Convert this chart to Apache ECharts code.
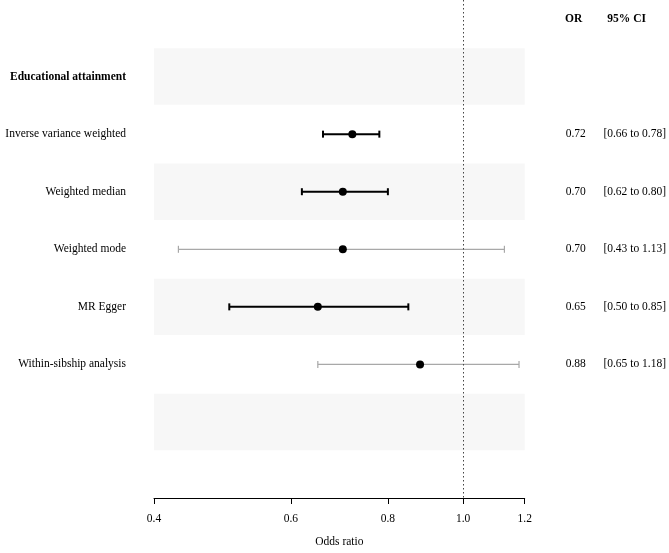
<!DOCTYPE html>
<html>
<head>
<meta charset="utf-8">
<script src="https://cdn.jsdelivr.net/npm/echarts@6/dist/echarts.min.js"></script>
<style>html,body{margin:0;padding:0;background:#fff}#chart{width:669px;height:553px}</style>
</head>
<body>
<div id="chart"></div>
<script>
// ---- data ----
const sectionTitle = 'Educational attainment';
const methods = ['Inverse variance weighted', 'Weighted median', 'Weighted mode', 'MR Egger', 'Within-sibship analysis'];
const orValues = [0.72, 0.70, 0.70, 0.65, 0.88];
const ciLower = [0.66, 0.62, 0.43, 0.50, 0.65];
const ciUpper = [0.78, 0.80, 1.13, 0.85, 1.18];
const xTicks = [0.4, 0.6, 0.8, 1.0, 1.2];
const headerOR = 'OR';
const headerCI = '95% CI';
const xName = 'Odds ratio';

// ---- layout rows: 0 header, 1 section title, 2..6 methods, 7 blank ----
const nRows = 8;
const FONT = 'Liberation Serif';
const FS = 11.5;
const ln = Math.log;

const leftText = {};
leftText[1] = '{b|' + sectionTitle + '}';
methods.forEach((m, i) => { leftText[i + 2] = m; });
const orText = {0: '{ho|' + headerOR + '}'};
const ciText = {0: '{hc|' + headerCI + '}'};
methods.forEach((m, i) => {
  orText[i + 2] = orValues[i].toFixed(2);
  ciText[i + 2] = '[' + ciLower[i].toFixed(2) + ' to ' + ciUpper[i].toFixed(2) + ']';
});

const barData = methods.map((m, i) => {
  const sig = (ciUpper[i] < 1 || ciLower[i] > 1) ? 1 : 0;
  return [ln(ciLower[i]), ln(ciUpper[i]), i + 2, sig];
});
const pointData = methods.map((m, i) => [ln(orValues[i]), i + 2]);

const bandRows = [];
for (let r = 1; r < nRows; r += 2) bandRows.push(r);

const yMin = -0.33, yMax = 8.32;
const boldStyle = {fontWeight: 'bold', fontFamily: FONT, fontSize: FS, color: '#000'};
const rich = {
  b: boldStyle,
  ho: Object.assign({padding: [0, 4, 0, 0]}, boldStyle),
  hc: Object.assign({padding: [0, 16, 0, 0]}, boldStyle)
};

function yAxisBase(extra) {
  return Object.assign({
    type: 'value', min: yMin, max: yMax, inverse: true,
    axisLine: {show: false}, axisTick: {show: false}, splitLine: {show: false}
  }, extra);
}

const chart = echarts.init(document.getElementById('chart'));
chart.setOption({
  backgroundColor: '#fff',
  animation: false,
  grid: {left: 154, right: 144, top: 0, bottom: 49},
  xAxis: {
    type: 'value', position: 'bottom',
    min: ln(xTicks[0]), max: ln(xTicks[xTicks.length - 1]),
    axisLine: {show: true, onZero: false, lineStyle: {color: '#000', width: 1}},
    axisTick: {show: true, length: 6, lineStyle: {color: '#000'}, customValues: xTicks.map(ln)},
    axisLabel: {
      customValues: xTicks.map(ln), margin: 15,
      fontFamily: FONT, fontSize: FS, color: '#000',
      formatter: v => Math.exp(v).toFixed(1)
    },
    splitLine: {show: false},
    name: xName, nameLocation: 'middle', nameGap: 38,
    nameTextStyle: {fontFamily: FONT, fontSize: FS, color: '#000'}
  },
  yAxis: [
    yAxisBase({
      position: 'left',
      axisLabel: {
        customValues: Object.keys(leftText).map(Number), margin: 28, align: 'right',
        fontFamily: FONT, fontSize: FS, color: '#000', rich: rich,
        formatter: v => leftText[Math.round(v)] || ''
      }
    }),
    yAxisBase({
      position: 'right',
      axisLabel: {
        customValues: Object.keys(orText).map(Number), margin: 51, align: 'center',
        fontFamily: FONT, fontSize: FS, color: '#000', rich: rich,
        formatter: v => orText[Math.round(v)] || ''
      }
    }),
    yAxisBase({
      position: 'right',
      axisLabel: {
        customValues: Object.keys(ciText).map(Number), margin: 110, align: 'center',
        fontFamily: FONT, fontSize: FS, color: '#000', rich: rich,
        formatter: v => ciText[Math.round(v)] || ''
      }
    })
  ],
  series: [
    {
      type: 'scatter', data: [], z: 1, silent: true,
      markArea: {
        silent: true,
        itemStyle: {color: '#f7f7f7'},
        label: {show: false},
        data: bandRows.map(r => [{yAxis: r - 0.49}, {yAxis: r + 0.49}])
      },
      markLine: {
        silent: true, symbol: ['none', 'none'],
        label: {show: false},
        lineStyle: {color: '#444', width: 1, type: [1.5, 2.5]},
        data: [{xAxis: 0}]
      }
    },
    {
      type: 'custom', z: 3, silent: true,
      data: barData,
      encode: {x: [0, 1], y: 2},
      renderItem: function (params, api) {
        const p1 = api.coord([api.value(0), api.value(2)]);
        const p2 = api.coord([api.value(1), api.value(2)]);
        const sig = api.value(3) === 1;
        const style = {stroke: sig ? '#000' : '#a8a8a8', lineWidth: sig ? 2 : 1.2};
        const h = 3.5;
        return {
          type: 'group',
          children: [
            {type: 'line', shape: {x1: p1[0], y1: p1[1], x2: p2[0], y2: p2[1]}, style: style},
            {type: 'line', shape: {x1: p1[0], y1: p1[1] - h, x2: p1[0], y2: p1[1] + h}, style: style},
            {type: 'line', shape: {x1: p2[0], y1: p2[1] - h, x2: p2[0], y2: p2[1] + h}, style: style}
          ]
        };
      }
    },
    {
      type: 'scatter', z: 4, silent: true,
      data: pointData, symbol: 'circle', symbolSize: 8,
      itemStyle: {color: '#000', opacity: 1}
    }
  ]
});
</script>
</body>
</html>
